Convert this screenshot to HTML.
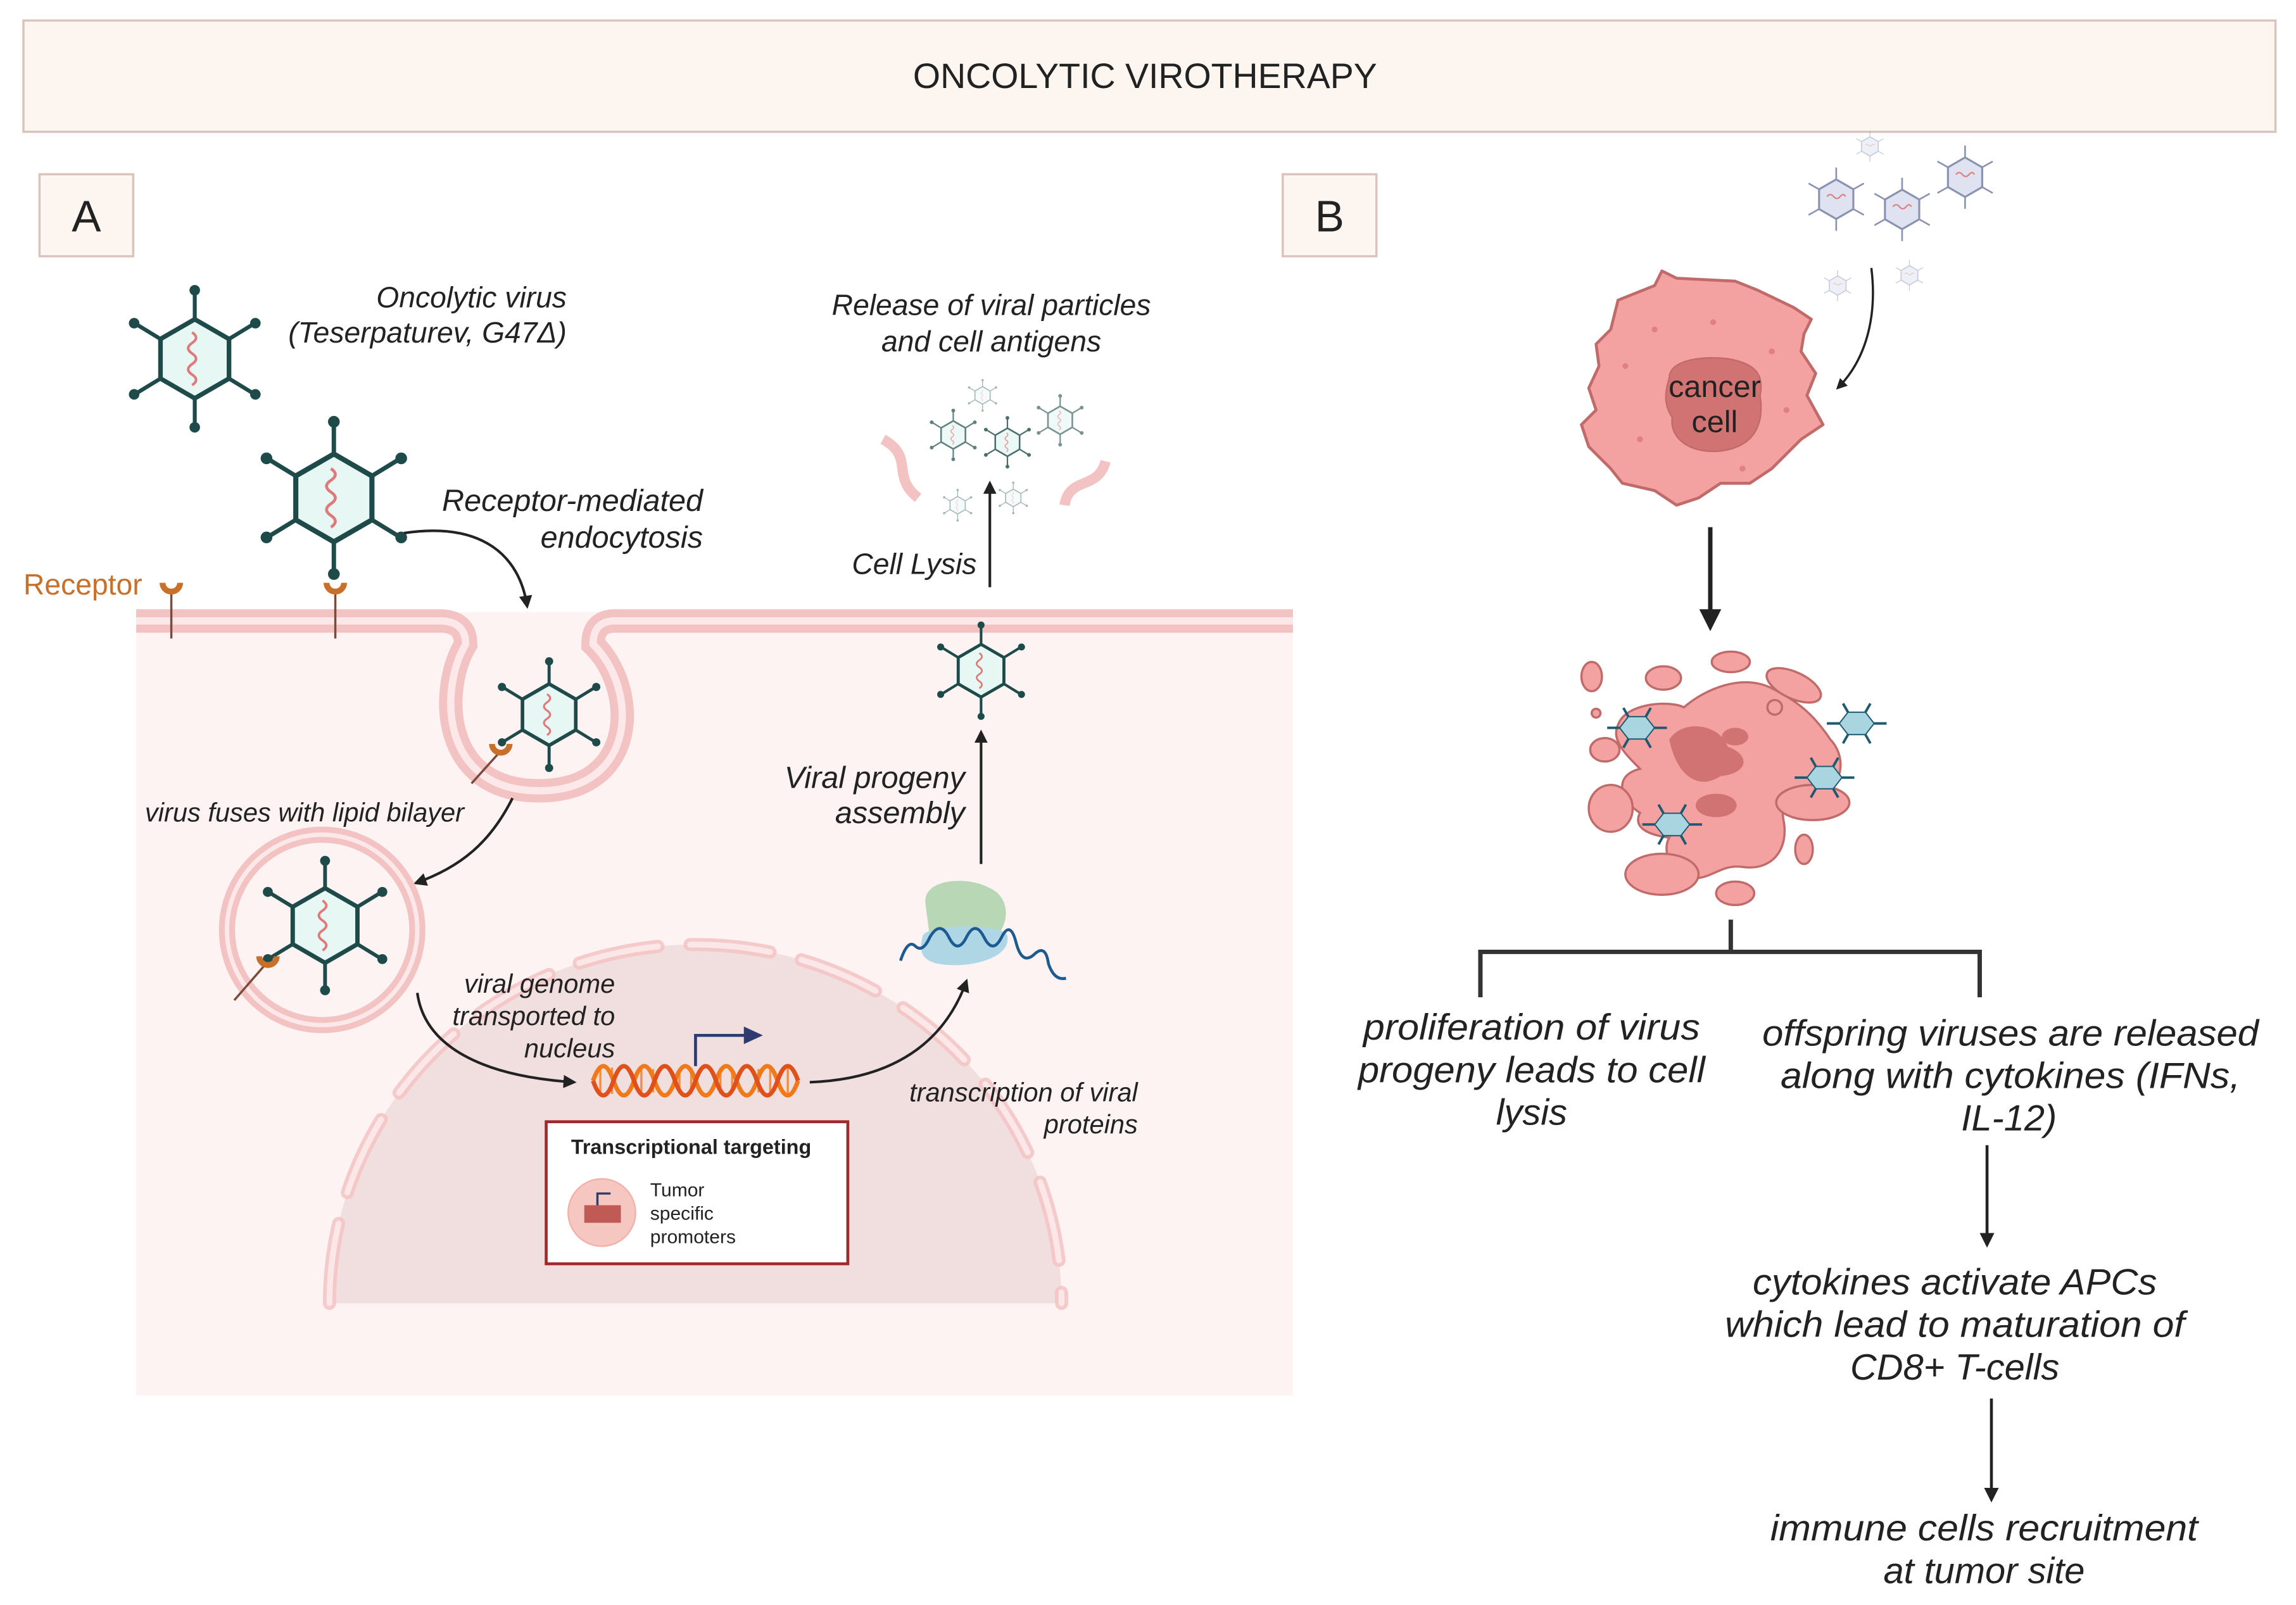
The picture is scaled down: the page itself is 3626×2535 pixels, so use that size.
<!DOCTYPE html>
<html><head><meta charset="utf-8"><style>
html,body{margin:0;padding:0;background:#fff;}
svg{display:block;}
text{font-family:"Liberation Sans",sans-serif;fill:#222;}
.it{font-style:italic;}
</style></head><body>
<svg width="3626" height="2535" viewBox="0 0 1568 1096" preserveAspectRatio="none" xmlns="http://www.w3.org/2000/svg">
<defs>
<g id="vir">
  <g stroke="#1f4a4a" stroke-width="3">
    <line x1="0" y1="-30" x2="0" y2="-50"/><line x1="0" y1="30" x2="0" y2="50"/>
    <line x1="26" y1="-15" x2="44" y2="-26"/><line x1="26" y1="15" x2="44" y2="26"/>
    <line x1="-26" y1="-15" x2="-44" y2="-26"/><line x1="-26" y1="15" x2="-44" y2="26"/>
  </g>
  <g fill="#1f4a4a">
    <circle cx="0" cy="-52" r="4"/><circle cx="0" cy="52" r="4"/>
    <circle cx="46" cy="-27" r="4"/><circle cx="46" cy="27" r="4"/>
    <circle cx="-46" cy="-27" r="4"/><circle cx="-46" cy="27" r="4"/>
  </g>
  <polygon points="0,-30 26,-15 26,15 0,30 -26,15 -26,-15" fill="#e6f7f4" stroke="#1f4a4a" stroke-width="3.5"/>
  <path d="M-2,-20 q6,4 0,8 q-6,4 0,8 q6,4 0,8 q-6,4 0,8 q6,4 0,8" fill="none" stroke="#e07a7a" stroke-width="2"/>
</g>
<g id="vpale">
  <g stroke="#8a92b0" stroke-width="2.5">
    <line x1="0" y1="-30" x2="0" y2="-48"/><line x1="0" y1="30" x2="0" y2="48"/>
    <line x1="26" y1="-15" x2="42" y2="-24"/><line x1="26" y1="15" x2="42" y2="24"/>
    <line x1="-26" y1="-15" x2="-42" y2="-24"/><line x1="-26" y1="15" x2="-42" y2="24"/>
  </g>
  <polygon points="0,-30 26,-15 26,15 0,30 -26,15 -26,-15" fill="#dfe2f0" stroke="#8a92b0" stroke-width="3"/>
  <path d="M-14,-4 q5,-6 10,0 q5,6 10,0 q5,-6 8,0" fill="none" stroke="#e07a7a" stroke-width="2"/>
</g>
<g id="vblue">
  <g stroke="#1d5a70" stroke-width="2">
    <line x1="-14" y1="0" x2="-24" y2="0"/><line x1="14" y1="0" x2="24" y2="0"/>
    <line x1="-7" y1="-9" x2="-11" y2="-16"/><line x1="7" y1="-9" x2="11" y2="-16"/>
    <line x1="-7" y1="9" x2="-11" y2="16"/><line x1="7" y1="9" x2="11" y2="16"/>
  </g>
  <polygon points="-14,0 -7,-9 7,-9 14,0 7,9 -7,9" fill="#a9d5e0" stroke="#1d5a70" stroke-width="1"/>
</g>
<marker id="ah" viewBox="0 0 10 10" refX="8" refY="5" markerWidth="5" markerHeight="5" orient="auto"><path d="M0,0 L10,5 L0,10 z" fill="#222"/></marker>
</defs>

<rect x="16" y="14" width="1538" height="76" fill="#fdf5ef" stroke="#d9c4bb" stroke-width="1.5"/>
<text x="782" y="60" font-size="24" text-anchor="middle">ONCOLYTIC VIROTHERAPY</text>

<rect x="27" y="119" width="64" height="56" fill="#fdf5ef" stroke="#d9c4bb" stroke-width="1.5"/>
<text x="59" y="158" font-size="30" text-anchor="middle">A</text>
<rect x="876" y="119" width="64" height="56" fill="#fdf5ef" stroke="#d9c4bb" stroke-width="1.5"/>
<text x="908" y="158" font-size="30" text-anchor="middle">B</text>

<rect x="93" y="418" width="790" height="535" fill="#fdf3f3"/>
<path d="M225,890 A250,245 0 0 1 725,890 Z" fill="#f1dfdf"/>
<path d="M225,890 A250,245 0 0 1 725,890" fill="none" stroke="#f4c5c5" stroke-width="9" stroke-dasharray="55,22" stroke-linecap="round" opacity="0.9"/>
<path d="M225,890 A250,245 0 0 1 725,890" fill="none" stroke="#fbe7e7" stroke-width="4" stroke-dasharray="55,22" stroke-linecap="round"/>

<path d="M93,424 L300,424 Q318,424 318,440 C300,470 300,540 368,540 C436,540 436,470 405,440 Q405,424 420,424 L883,424" fill="none" stroke="#f3c2c2" stroke-width="16"/>
<path d="M93,424 L300,424 Q318,424 318,440 C300,470 300,540 368,540 C436,540 436,470 405,440 Q405,424 420,424 L883,424" fill="none" stroke="#fce8e8" stroke-width="5"/>

<g stroke="#7a4a3a" stroke-width="1.5"><line x1="117" y1="404" x2="117" y2="436"/><line x1="229" y1="404" x2="229" y2="436"/></g>
<path d="M111,398 a6,6 0 0 0 12,0" fill="none" stroke="#c8702a" stroke-width="4"/>
<path d="M223,398 a6,6 0 0 0 12,0" fill="none" stroke="#c8702a" stroke-width="4"/>
<text x="16" y="406" font-size="20" style="fill:#c8702a">Receptor</text>

<use href="#vir" transform="translate(133,245) scale(0.9)"/>
<use href="#vir" transform="translate(228,340)"/>
<use href="#vir" transform="translate(375,488) scale(0.7)"/>
<use href="#vir" transform="translate(670,458) scale(0.6)"/>
<use href="#vir" transform="translate(222,632) scale(0.85)"/>

<text class="it" x="387" y="210" font-size="20" text-anchor="end">Oncolytic virus</text>
<text class="it" x="387" y="234" font-size="20" text-anchor="end">(Teserpaturev, G47Δ)</text>
<text class="it" x="480" y="349" font-size="21" text-anchor="end">Receptor-mediated</text>
<text class="it" x="480" y="374" font-size="21" text-anchor="end">endocytosis</text>
<path d="M276,364 C330,356 355,380 360,414" fill="none" stroke="#222" stroke-width="1.8" marker-end="url(#ah)"/>

<line x1="322" y1="535" x2="340" y2="515" stroke="#7a4a3a" stroke-width="1.5"/>
<path d="M336,508 a6,6 0 0 0 12,0" fill="none" stroke="#c8702a" stroke-width="4"/>

<text class="it" x="99" y="561" font-size="18">virus fuses with lipid bilayer</text>
<path d="M350,545 C335,575 315,592 284,603" fill="none" stroke="#222" stroke-width="1.8" marker-end="url(#ah)"/>

<circle cx="220" cy="635" r="65" fill="none" stroke="#f3c2c2" stroke-width="11"/>
<circle cx="220" cy="635" r="65" fill="none" stroke="#fce8e8" stroke-width="3"/>
<line x1="160" y1="683" x2="180" y2="660" stroke="#7a4a3a" stroke-width="1.5"/>
<path d="M177,653 a6,6 0 0 0 12,0" fill="none" stroke="#c8702a" stroke-width="4"/>

<text class="it" x="420" y="678" font-size="18" text-anchor="end">viral genome</text>
<text class="it" x="420" y="700" font-size="18" text-anchor="end">transported to</text>
<text class="it" x="420" y="722" font-size="18" text-anchor="end">nucleus</text>
<path d="M285,678 C290,715 330,735 392,739" fill="none" stroke="#222" stroke-width="1.8" marker-end="url(#ah)"/>

<!-- DNA -->
<g stroke="#f39040" stroke-width="1.5">
<line x1="410" y1="730" x2="410" y2="746"/><line x1="418" y1="729" x2="418" y2="747"/><line x1="438" y1="729" x2="438" y2="747"/><line x1="446" y1="730" x2="446" y2="746"/>
<line x1="464" y1="730" x2="464" y2="746"/><line x1="472" y1="729" x2="472" y2="747"/><line x1="492" y1="729" x2="492" y2="747"/><line x1="500" y1="730" x2="500" y2="746"/>
<line x1="518" y1="730" x2="518" y2="746"/><line x1="526" y1="729" x2="526" y2="747"/><line x1="538" y1="729" x2="538" y2="747"/>
</g>
<g fill="none" stroke-width="3">
<path d="M405,738 q7,-20 14,0 q7,20 14,0 q7,-20 14,0 q7,20 14,0 q7,-20 14,0 q7,20 14,0 q7,-20 14,0 q7,20 14,0 q7,-20 14,0 q7,20 14,0" stroke="#f07a1a"/>
<path d="M405,738 q7,20 14,0 q7,-20 14,0 q7,20 14,0 q7,-20 14,0 q7,20 14,0 q7,-20 14,0 q7,20 14,0 q7,-20 14,0 q7,20 14,0 q7,-20 14,0" stroke="#e0501a"/>
</g>
<path d="M475,728 L475,707 L510,707" fill="none" stroke="#2e3b6e" stroke-width="2"/>
<path d="M508,701 L521,707 L508,713 z" fill="#2e3b6e"/>
<path d="M553,739 C610,737 645,712 660,670" fill="none" stroke="#222" stroke-width="1.8" marker-end="url(#ah)"/>
<text class="it" x="777" y="752" font-size="18" text-anchor="end">transcription of viral</text>
<text class="it" x="777" y="774" font-size="18" text-anchor="end">proteins</text>

<rect x="373" y="766" width="206" height="97" fill="#fff" stroke="#a02a2a" stroke-width="2"/>
<text x="390" y="788" font-size="14" font-weight="bold">Transcriptional targeting</text>
<circle cx="411" cy="828" r="23" fill="#f6c6c0" stroke="#f2b0a8"/>
<rect x="399" y="823" width="25" height="12" fill="#c05a55"/>
<path d="M408,823 v-8 h9" fill="none" stroke="#2e3b6e" stroke-width="1.5"/>
<text x="444" y="817" font-size="13">Tumor</text>
<text x="444" y="833" font-size="13">specific</text>
<text x="444" y="849" font-size="13">promoters</text>

<path d="M632,617 C630,600 660,598 675,606 C690,612 690,630 680,640 L635,640 Z" fill="#b8d8b5"/>
<path d="M630,640 C630,630 690,630 688,640 C690,655 660,662 640,658 C628,655 628,648 630,640 Z" fill="#aed6e4"/>
<path d="M615,656 q5,-15 10,-10 q5,5 10,-6 q7,-12 13,0 q6,12 12,0 q6,-12 12,0 q6,12 12,0 q6,-12 10,4 q4,15 12,8 q8,-8 10,6 q4,12 12,10" fill="none" stroke="#1d5a90" stroke-width="2"/>

<line x1="670" y1="590" x2="670" y2="500" stroke="#222" stroke-width="1.8" marker-end="url(#ah)"/>
<text class="it" x="659" y="538" font-size="21" text-anchor="end">Viral progeny</text>
<text class="it" x="659" y="562" font-size="21" text-anchor="end">assembly</text>

<line x1="676" y1="401" x2="676" y2="330" stroke="#222" stroke-width="1.8" marker-end="url(#ah)"/>
<text class="it" x="667" y="392" font-size="20" text-anchor="end">Cell Lysis</text>
<text class="it" x="677" y="215" font-size="20" text-anchor="middle">Release of viral particles</text>
<text class="it" x="677" y="240" font-size="20" text-anchor="middle">and cell antigens</text>

<path d="M603,300 C625,312 608,325 627,340" fill="none" stroke="#f3c2c2" stroke-width="7"/>
<path d="M755,315 C750,335 730,325 727,345" fill="none" stroke="#f3c2c2" stroke-width="7"/>
<use href="#vir" transform="translate(651,297) scale(0.32)" opacity="0.7"/>
<use href="#vir" transform="translate(688,302) scale(0.32)" opacity="0.8"/>
<use href="#vir" transform="translate(724,287) scale(0.32)" opacity="0.6"/>
<use href="#vir" transform="translate(671,270) scale(0.2)" opacity="0.4"/>
<use href="#vir" transform="translate(654,345) scale(0.2)" opacity="0.4"/>
<use href="#vir" transform="translate(692,340) scale(0.2)" opacity="0.4"/>

<use href="#vpale" transform="translate(1254,136) scale(0.45)"/>
<use href="#vpale" transform="translate(1299,143) scale(0.45)"/>
<use href="#vpale" transform="translate(1342,121) scale(0.45)"/>
<use href="#vpale" transform="translate(1277,100) scale(0.22)" opacity="0.5"/>
<use href="#vpale" transform="translate(1255,195) scale(0.22)" opacity="0.5"/>
<use href="#vpale" transform="translate(1304,188) scale(0.22)" opacity="0.5"/>
<path d="M1278,183 C1282,215 1275,245 1255,265" fill="none" stroke="#222" stroke-width="1.5" marker-end="url(#ah)"/>

<path d="M1105,205 L1130,195 L1135,185 L1145,190 L1185,192 L1200,198 L1225,210 L1237,218 L1232,228 L1230,240 L1240,255 L1234,270 L1245,290 L1230,300 L1210,320 L1195,330 L1175,330 L1160,340 L1145,345 L1130,335 L1108,330 L1100,320 L1085,305 L1080,290 L1090,280 L1085,265 L1092,250 L1090,235 L1100,225 Z" fill="#f4a1a1" stroke="#c06a6a" stroke-width="2" stroke-linejoin="round"/>
<path d="M1140,258 C1140,245 1165,243 1180,245 C1198,248 1205,255 1202,270 C1205,290 1198,305 1175,308 C1155,310 1140,300 1142,285 C1135,275 1138,265 1140,258 Z" fill="#d17373" stroke="#c06a6a"/>
<g fill="#e08080"><circle cx="1110" cy="250" r="2"/><circle cx="1130" cy="225" r="2"/><circle cx="1210" cy="240" r="2"/><circle cx="1120" cy="300" r="2"/><circle cx="1190" cy="320" r="2"/><circle cx="1220" cy="280" r="2"/><circle cx="1170" cy="220" r="2"/></g>
<text x="1171" y="271" font-size="21" text-anchor="middle">cancer</text>
<text x="1171" y="295" font-size="21" text-anchor="middle">cell</text>

<line x1="1168" y1="360" x2="1168" y2="428" stroke="#222" stroke-width="3" marker-end="url(#ah)"/>

<g fill="#f4a1a1" stroke="#c06a6a" stroke-width="1.5">
<path d="M1105,495 C1110,480 1140,478 1150,483 C1165,470 1190,460 1210,470 C1230,480 1240,490 1250,505 C1260,515 1260,535 1245,540 C1225,545 1215,545 1218,560 C1222,580 1210,595 1190,592 C1175,590 1170,600 1155,600 C1140,598 1135,580 1140,572 C1125,570 1115,565 1120,555 C1108,548 1100,530 1120,525 C1110,515 1100,505 1105,495 Z"/>
<ellipse cx="1087" cy="462" rx="7" ry="10"/><ellipse cx="1136" cy="463" rx="12" ry="8"/><ellipse cx="1182" cy="452" rx="13" ry="7"/><ellipse cx="1225" cy="468" rx="20" ry="9" transform="rotate(25 1225 468)"/>
<ellipse cx="1096" cy="512" rx="10" ry="8"/><ellipse cx="1100" cy="552" rx="15" ry="16"/><ellipse cx="1135" cy="597" rx="25" ry="14"/><ellipse cx="1185" cy="610" rx="13" ry="8"/><ellipse cx="1232" cy="580" rx="6" ry="10"/><ellipse cx="1238" cy="548" rx="25" ry="12"/><ellipse cx="1212" cy="483" rx="5" ry="5"/><ellipse cx="1090" cy="487" rx="3" ry="3"/>
</g>
<path d="M1140,505 C1150,490 1175,495 1180,510 C1195,515 1195,528 1175,530 C1160,540 1145,530 1140,505 Z" fill="#d17373"/>
<ellipse cx="1185" cy="503" rx="9" ry="6" fill="#d17373"/>
<ellipse cx="1172" cy="550" rx="14" ry="8" fill="#d17373"/>
<use href="#vblue" transform="translate(1118,497) scale(0.85)"/>
<use href="#vblue" transform="translate(1268,494) scale(0.85)"/>
<use href="#vblue" transform="translate(1246,531) scale(0.85)"/>
<use href="#vblue" transform="translate(1142,563) scale(0.85)"/>

<g fill="none" stroke="#333" stroke-width="3">
<line x1="1182" y1="628" x2="1182" y2="650"/>
<polyline points="1011,681 1011,650 1352,650 1352,681"/>
</g>

<g font-size="25" text-anchor="middle">
<text class="it" x="1046" y="710" textLength="230" lengthAdjust="spacingAndGlyphs">proliferation of virus</text>
<text class="it" x="1046" y="739" textLength="237" lengthAdjust="spacingAndGlyphs">progeny leads to cell</text>
<text class="it" x="1046" y="768">lysis</text>
<text class="it" x="1373" y="714" textLength="339" lengthAdjust="spacingAndGlyphs">offspring viruses are released</text>
<text class="it" x="1373" y="743" textLength="314" lengthAdjust="spacingAndGlyphs">along with cytokines  (IFNs,</text>
<text class="it" x="1372" y="772">IL-12)</text>
<text class="it" x="1335" y="884" textLength="276" lengthAdjust="spacingAndGlyphs">cytokines activate APCs</text>
<text class="it" x="1335" y="913" textLength="314" lengthAdjust="spacingAndGlyphs">which lead to maturation of</text>
<text class="it" x="1335" y="942">CD8+ T-cells</text>
<text class="it" x="1355" y="1052" textLength="292" lengthAdjust="spacingAndGlyphs">immune cells recruitment</text>
<text class="it" x="1355" y="1081">at tumor site</text>
</g>
<line x1="1357" y1="782" x2="1357" y2="850" stroke="#222" stroke-width="2" marker-end="url(#ah)"/>
<line x1="1360" y1="955" x2="1360" y2="1024" stroke="#222" stroke-width="2" marker-end="url(#ah)"/>
</svg>
</body></html>
